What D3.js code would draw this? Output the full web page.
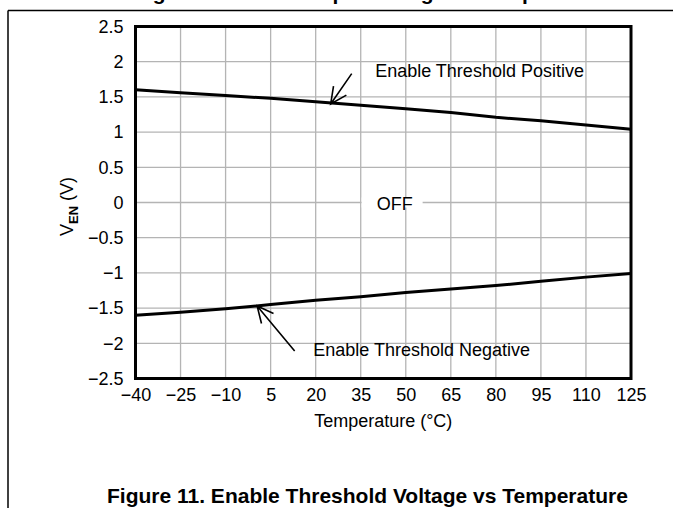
<!DOCTYPE html>
<html>
<head>
<meta charset="utf-8">
<script src="https://cdn.jsdelivr.net/npm/d3@7"></script>
<style>
  body { margin: 0; background: #fff; }
  text { font-family: Arial, "Liberation Sans", sans-serif; fill: #000; }
</style>
</head>
<body>
<svg id="chart"></svg>
<script>
// data
const temps = [-40, -25, -10, 5, 20, 35, 50, 65, 80, 95, 110, 125];
const posThreshold = [1.60, 1.56, 1.52, 1.48, 1.43, 1.38, 1.33, 1.28, 1.21, 1.16, 1.10, 1.04];
const negThreshold = [-1.60, -1.56, -1.51, -1.45, -1.39, -1.34, -1.28, -1.23, -1.18, -1.12, -1.06, -1.01];
const xTicks = [-40, -25, -10, 5, 20, 35, 50, 65, 80, 95, 110, 125];
const yTicks = [2.5, 2, 1.5, 1, 0.5, 0, -0.5, -1, -1.5, -2, -2.5];

const W = 673, H = 508;
const margin = { top: 26.5, right: 42, bottom: 129.5, left: 135.5 };
const width = W - margin.left - margin.right;
const height = H - margin.top - margin.bottom;

const svg = d3.select('#chart')
    .attr('width', W)
    .attr('height', H);

// page frame (top rule + left rule) and cut-off caption of the previous figure
svg.append('line')
    .attr('x1', 8).attr('x2', W).attr('y1', 10.5).attr('y2', 10.5)
    .attr('stroke', '#000').attr('stroke-width', 1.5);
svg.append('line')
    .attr('x1', 8).attr('x2', 8).attr('y1', 10.5).attr('y2', H)
    .attr('stroke', '#000').attr('stroke-width', 1.5);
svg.append('text')
    .attr('x', 370).attr('y', -0.5)
    .style('text-anchor', 'middle')
    .style('font-weight', 'bold')
    .style('font-size', '21px')
    .text('Figure 10. Enable Input Voltage vs Temperature');

const g = svg.append('g')
    .attr('transform', `translate(${margin.left},${margin.top})`);

// scales
const x = d3.scaleLinear().domain([-40, 125]).range([0, width]);
const y = d3.scaleLinear().domain([-2.5, 2.5]).range([height, 0]);

const fmt = v => String(v).replace('-', '\u2212');

// grid
g.append('g')
    .selectAll('line')
    .data(xTicks)
    .enter()
    .append('line')
    .attr('x1', d => x(d)).attr('x2', d => x(d))
    .attr('y1', 0).attr('y2', height)
    .attr('stroke', '#b4b4b4').attr('stroke-width', 1.3);

g.append('g')
    .selectAll('line')
    .data(yTicks)
    .enter()
    .append('line')
    .attr('x1', 0).attr('x2', width)
    .attr('y1', d => y(d)).attr('y2', d => y(d))
    .attr('stroke', '#b4b4b4').attr('stroke-width', 1.3);

// axes (labels only, frame drawn below)
const xAxis = g.append('g')
    .attr('transform', `translate(0,${height})`)
    .call(d3.axisBottom(x).tickValues(xTicks).tickSize(0).tickPadding(10).tickFormat(fmt));
const yAxis = g.append('g')
    .call(d3.axisLeft(y).tickValues(yTicks).tickSize(0).tickPadding(12).tickFormat(fmt));
[xAxis, yAxis].forEach(a => {
    a.select('.domain').remove();
    a.selectAll('text')
        .style('font-family', 'Arial, "Liberation Sans", sans-serif')
        .style('font-size', '18px')
        .attr('fill', '#000');
});

// OFF label with white backing over the zero grid line
g.append('rect')
    .attr('x', x(35.3)).attr('y', y(0) - 5)
    .attr('width', 61).attr('height', 10)
    .attr('fill', '#fff');
g.append('text')
    .attr('x', x(40.3)).attr('y', y(0) + 7)
    .style('font-size', '18px')
    .text('OFF');

// threshold lines
const line = d3.line()
    .x((d, i) => x(temps[i]))
    .y(d => y(d));

g.append('path')
    .datum(posThreshold)
    .attr('d', line)
    .attr('fill', 'none')
    .attr('stroke', '#000')
    .attr('stroke-width', 3);

g.append('path')
    .datum(negThreshold)
    .attr('d', line)
    .attr('fill', 'none')
    .attr('stroke', '#000')
    .attr('stroke-width', 3);

// plot frame
g.append('rect')
    .attr('x', 0).attr('y', 0)
    .attr('width', width).attr('height', height)
    .attr('fill', 'none')
    .attr('stroke', '#000')
    .attr('stroke-width', 3);

// annotations with open arrowheads
function arrow(x1, y1, x2, y2) {
    const ang = Math.atan2(y2 - y1, x2 - x1);
    const len = 18, spread = 0.45;
    const p = d3.path();
    p.moveTo(x1, y1);
    p.lineTo(x2, y2);
    p.moveTo(x2 - len * Math.cos(ang - spread), y2 - len * Math.sin(ang - spread));
    p.lineTo(x2, y2);
    p.lineTo(x2 - len * Math.cos(ang + spread), y2 - len * Math.sin(ang + spread));
    g.append('path')
        .attr('d', p.toString())
        .attr('fill', 'none')
        .attr('stroke', '#000')
        .attr('stroke-width', 1.6);
}

arrow(x(32), y(1.83), x(25), y(1.40));
arrow(x(13), y(-2.11), x(0.5), y(-1.47));

g.append('text')
    .attr('x', x(39.8)).attr('y', y(1.78))
    .style('font-size', '18px')
    .text('Enable Threshold Positive');

g.append('text')
    .attr('x', x(19.2)).attr('y', y(-2.18))
    .style('font-size', '18px')
    .text('Enable Threshold Negative');

// axis titles
g.append('text')
    .attr('x', width / 2)
    .attr('y', height + 48)
    .style('text-anchor', 'middle')
    .style('font-size', '18px')
    .text('Temperature (°C)');

const yl = g.append('text')
    .attr('transform', `translate(${73 - margin.left},${height / 2 + 4}) rotate(-90)`)
    .style('text-anchor', 'middle')
    .style('font-size', '18px');
yl.append('tspan').text('V');
yl.append('tspan')
    .attr('dy', 5)
    .style('font-size', '13px')
    .style('font-weight', 'bold')
    .text('EN');
yl.append('tspan').attr('dy', -5).text(' (V)');

// figure caption
svg.append('text')
    .attr('x', 107)
    .attr('y', 503)
    .style('font-weight', 'bold')
    .style('font-size', '21px')
    .text('Figure 11. Enable Threshold Voltage vs Temperature');
</script>
</body>
</html>
